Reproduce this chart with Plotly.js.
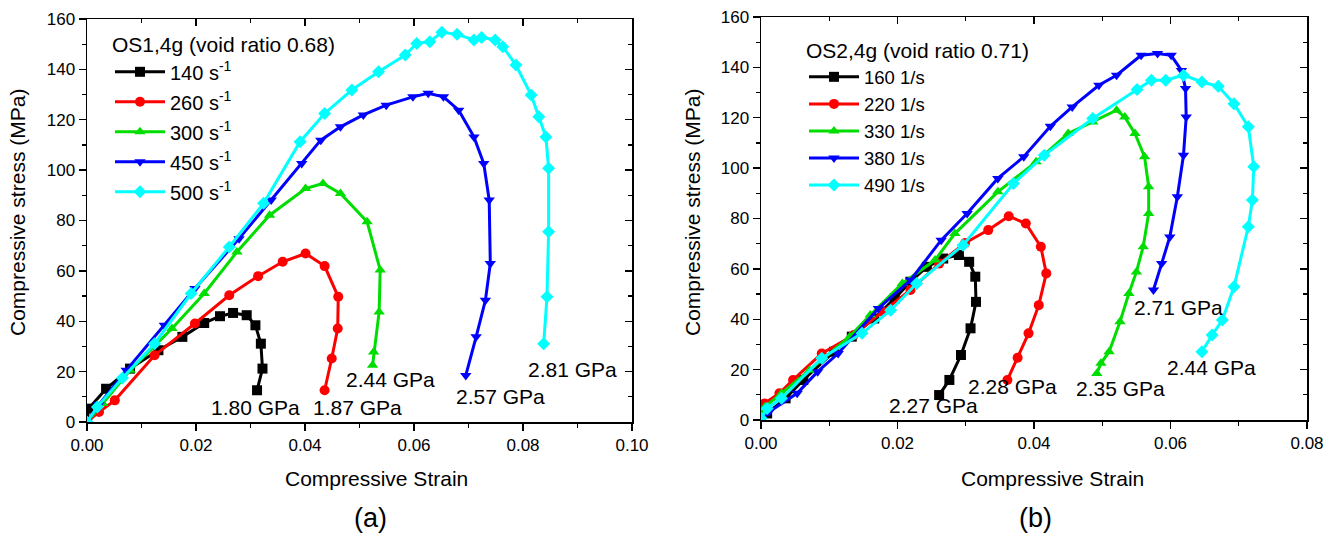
<!DOCTYPE html>
<html>
<head>
<meta charset="utf-8">
<script src="https://cdn.plot.ly/plotly-3.0.1.min.js"></script>
<style>html,body{margin:0;padding:0;background:#fff;}#chart{width:1334px;height:536px;}</style>
</head>
<body>
<div id="chart"></div>
<script>
// ---------- Panel (a): OS1,4g (void ratio 0.68) ----------
const a_names = ["140 s<sup>-1</sup>", "260 s<sup>-1</sup>", "300 s<sup>-1</sup>", "450 s<sup>-1</sup>", "500 s<sup>-1</sup>"];
const a140_strain = [0, 0.0003, 0.0035, 0.0079, 0.0131, 0.0175, 0.0215, 0.0244, 0.0268, 0.0293, 0.0309, 0.0319, 0.0322, 0.0312];
const a140_stress = [0.4, 5.3, 13.2, 21.2, 28.5, 33.8, 39.3, 42.0, 43.3, 42.4, 38.4, 31.1, 21.2, 12.6];
const a260_strain = [0, 0.0022, 0.0051, 0.0124, 0.0198, 0.0261, 0.0314, 0.0359, 0.0401, 0.0436, 0.0461, 0.0460, 0.0449, 0.0436];
const a260_stress = [0, 4.0, 8.6, 26.5, 39.1, 50.3, 57.9, 63.6, 66.9, 61.9, 49.7, 37.1, 25.2, 12.6];
const a300_strain = [0, 0.0029, 0.0079, 0.0156, 0.0215, 0.0275, 0.0335, 0.0401, 0.0433, 0.0465, 0.0514, 0.0538, 0.0536, 0.0526, 0.0524];
const a300_stress = [0, 7.3, 20.5, 37.1, 51.0, 67.5, 82.1, 92.7, 94.7, 90.7, 79.5, 60.3, 43.7, 27.8, 22.5];
const a450_strain = [0, 0.0022, 0.0072, 0.0142, 0.0198, 0.0279, 0.0338, 0.0394, 0.0429, 0.0465, 0.0507, 0.0549, 0.0598, 0.0626, 0.0654, 0.0682, 0.0710, 0.0728, 0.0738, 0.0740, 0.0731, 0.0714, 0.0695];
const a450_stress = [0, 6.9, 20.5, 38.4, 53.0, 72.8, 88.1, 102.6, 111.9, 117.2, 121.9, 125.8, 129.1, 130.5, 129.1, 123.8, 113.2, 102.6, 88.1, 62.9, 48.3, 33.8, 18.5];
const a500_strain = [0, 0.0019, 0.0065, 0.0124, 0.0191, 0.0261, 0.0324, 0.0391, 0.0436, 0.0486, 0.0535, 0.0584, 0.0605, 0.0629, 0.0651, 0.0679, 0.0710, 0.0724, 0.0749, 0.0763, 0.0787, 0.0815, 0.0829, 0.0842, 0.0847, 0.0847, 0.0844, 0.0838];
const a500_stress = [0, 6.0, 17.5, 31.1, 51.0, 69.5, 86.8, 111.3, 122.5, 131.8, 139.1, 145.7, 150.3, 151.0, 154.7, 153.9, 151.7, 152.7, 151.7, 149.0, 141.7, 129.8, 121.2, 113.2, 100.7, 75.5, 49.7, 31.1];
const a_labels = ["1.80 GPa", "1.87 GPa", "2.44 GPa", "2.57 GPa", "2.81 GPa"];
const a_label_x = [0.0310, 0.0497, 0.0556, 0.0758, 0.0890];
const a_label_y = [5.8, 5.8, 16.7, 10.3, 21.0];

// ---------- Panel (b): OS2,4g (void ratio 0.71) ----------
const b_names = ["160 1/s", "220 1/s", "330 1/s", "380 1/s", "490 1/s"];
const b160_strain = [0, 0.0009, 0.0036, 0.0062, 0.0107, 0.0133, 0.0166, 0.0196, 0.0219, 0.0243, 0.0267, 0.0290, 0.0305, 0.0314, 0.0315, 0.0307, 0.0293, 0.0276, 0.0261];
const b160_stress = [0, 2.6, 8.6, 15.9, 27.1, 33.1, 40.3, 48.3, 54.9, 60.8, 64.1, 65.5, 62.8, 56.9, 46.9, 36.4, 25.8, 15.9, 9.9];
const b220_strain = [0, 0.0005, 0.0027, 0.0047, 0.0089, 0.0136, 0.0178, 0.0219, 0.0261, 0.0299, 0.0333, 0.0363, 0.0388, 0.0410, 0.0418, 0.0407, 0.0392, 0.0376, 0.0361];
const b220_stress = [0.7, 6.6, 10.6, 15.9, 26.4, 33.7, 43.0, 51.6, 62.1, 70.3, 75.4, 80.9, 78.0, 68.8, 58.2, 45.6, 34.4, 24.7, 15.9];
const b330_strain = [0, 0.0006, 0.0030, 0.0071, 0.0130, 0.0160, 0.0207, 0.0255, 0.0284, 0.0347, 0.0403, 0.0450, 0.0486, 0.0521, 0.0533, 0.0548, 0.0562, 0.0568, 0.0568, 0.0560, 0.0550, 0.0539, 0.0526, 0.0510, 0.0498, 0.0492];
const b330_stress = [1.3, 5.3, 10.6, 19.8, 33.1, 41.7, 54.2, 63.5, 74.0, 90.6, 102.5, 113.7, 118.3, 123.0, 120.3, 113.7, 104.5, 92.6, 82.0, 68.8, 58.8, 50.2, 39.0, 27.1, 22.5, 18.5];
const b380_strain = [0, 0.0012, 0.0053, 0.0083, 0.0113, 0.0172, 0.0219, 0.0264, 0.0302, 0.0347, 0.0385, 0.0424, 0.0456, 0.0495, 0.0521, 0.0557, 0.0581, 0.0601, 0.0616, 0.0622, 0.0623, 0.0619, 0.0610, 0.0599, 0.0587, 0.0575];
const b380_stress = [0, 3.3, 10.6, 19.2, 26.4, 44.3, 55.5, 71.4, 82.0, 95.9, 104.5, 116.6, 124.3, 132.9, 136.9, 144.8, 145.5, 144.8, 138.8, 131.6, 120.3, 105.1, 88.6, 72.7, 62.1, 51.6];
const b490_strain = [0, 0.0009, 0.0030, 0.0089, 0.0148, 0.0190, 0.0228, 0.0296, 0.0370, 0.0415, 0.0486, 0.0551, 0.0572, 0.0593, 0.0619, 0.0646, 0.0670, 0.0693, 0.0714, 0.0722, 0.0720, 0.0714, 0.0693, 0.0676, 0.0661, 0.0646];
const b490_stress = [0.7, 4.6, 8.6, 24.5, 34.4, 43.6, 54.2, 69.4, 93.9, 105.1, 119.7, 131.2, 134.9, 134.9, 136.9, 134.2, 132.5, 125.6, 116.4, 100.5, 87.3, 76.7, 52.9, 39.7, 33.7, 27.1];
const b_labels = ["2.27 GPa", "2.28 GPa", "2.35 GPa", "2.71 GPa", "2.44 GPa"];
const b_label_x = [0.0253, 0.0369, 0.0526, 0.0611, 0.0660];
const b_label_y = [5.6, 13.5, 12.7, 44.5, 21.0];

const x_title = "Compressive Strain";
const y_title = "Compressive stress (MPa)";
const panel_tags = ["(a)", "(b)"];

const colors = ["#000000", "#ff0000", "#00dd00", "#0000ff", "#00ffff"];
const symbols = ["square", "circle", "triangle-up", "triangle-down", "diamond"];
const FONT = "Arial, 'Liberation Sans', sans-serif";

const aX = [a140_strain, a260_strain, a300_strain, a450_strain, a500_strain];
const aY = [a140_stress, a260_stress, a300_stress, a450_stress, a500_stress];
const bX = [b160_strain, b220_strain, b330_strain, b380_strain, b490_strain];
const bY = [b160_stress, b220_stress, b330_stress, b380_stress, b490_stress];

const traces = [];
aX.forEach((xs, i) => traces.push({
  x: xs, y: aY[i], name: a_names[i], type: "scatter", mode: "lines+markers",
  xaxis: "x", yaxis: "y", legend: "legend", legendgroup: "a" + i,
  line: {color: colors[i], width: 3}, marker: {color: colors[i], symbol: symbols[i], size: 10}
}));
bX.forEach((xs, i) => traces.push({
  x: xs, y: bY[i], name: b_names[i], type: "scatter", mode: "lines+markers",
  xaxis: "x2", yaxis: "y2", legend: "legend2", legendgroup: "b" + i,
  line: {color: colors[i], width: 3}, marker: {color: colors[i], symbol: symbols[i], size: 10}
}));

const annotations = [];
a_labels.forEach((t, i) => annotations.push({x: a_label_x[i], y: a_label_y[i], xref: "x", yref: "y", text: t, showarrow: false, font: {family: FONT, size: 21, color: "#000"}}));
b_labels.forEach((t, i) => annotations.push({x: b_label_x[i], y: b_label_y[i], xref: "x2", yref: "y2", text: t, showarrow: false, font: {family: FONT, size: 21, color: "#000"}}));
const paperText = (t, px, py, size, angle) => ({x: px / 1334, y: 1 - py / 536, xref: "paper", yref: "paper",
  xanchor: "center", yanchor: "middle", text: t, showarrow: false, textangle: angle || 0,
  font: {family: FONT, size: size, color: "#000"}});
annotations.push(paperText(panel_tags[0], 370, 518, 27));
annotations.push(paperText(panel_tags[1], 1035, 518, 27));
annotations.push(paperText(x_title, 377, 478, 21));
annotations.push(paperText(x_title, 1052, 478, 21));
annotations.push(paperText(y_title, 18, 213, 21, -90));
annotations.push(paperText(y_title, 693, 213, 21, -90));

const tickFont = {family: FONT, size: 17, color: "#000"};

function xAxis(range, dom, anchor) {
  return {
    domain: dom, anchor: anchor, range: range, dtick: 0.02, tickformat: ".2f",
    ticks: "outside", ticklen: 7, tickwidth: 1.3, tickcolor: "#000",
    minor: {dtick: 0.01, ticks: "outside", ticklen: 4, tickwidth: 1.3, tickcolor: "#000"},
    showline: true, linecolor: "#000", linewidth: 1.5, mirror: true,
    showgrid: false, zeroline: false, tickfont: tickFont
  };
}
function yAxis(dom, anchor) {
  return {
    domain: dom, anchor: anchor, range: [0, 160], dtick: 20,
    ticks: "outside", ticklen: 7, tickwidth: 1.3, tickcolor: "#000",
    minor: {dtick: 10, ticks: "outside", ticklen: 4, tickwidth: 1.3, tickcolor: "#000"},
    showline: true, linecolor: "#000", linewidth: 1.5, mirror: true,
    showgrid: false, zeroline: false, tickfont: tickFont
  };
}
function topAxis(range, over, anchor) {
  return {overlaying: over, anchor: anchor, side: "top", range: range, dtick: 0.02,
    ticks: "inside", ticklen: 7, tickwidth: 1.3, tickcolor: "#000",
    minor: {dtick: 0.01, ticks: "inside", ticklen: 4, tickwidth: 1.3, tickcolor: "#000"},
    showticklabels: false, showline: false, showgrid: false, zeroline: false};
}
function rightAxis(over, anchor) {
  return {overlaying: over, anchor: anchor, side: "right", range: [0, 160], dtick: 20,
    ticks: "inside", ticklen: 7, tickwidth: 1.3, tickcolor: "#000",
    minor: {dtick: 10, ticks: "inside", ticklen: 4, tickwidth: 1.3, tickcolor: "#000"},
    showticklabels: false, showline: false, showgrid: false, zeroline: false};
}

const domA = [87 / 1334, 632 / 1334];
const domB = [761 / 1334, 1307 / 1334];
const domYA = [1 - 422 / 536, 1 - 19 / 536];
const domYB = [1 - 420 / 536, 1 - 17 / 536];

// dummy traces to activate overlay axes
traces.push({x: [0], y: [0], xaxis: "x3", yaxis: "y", mode: "none", showlegend: false, hoverinfo: "skip"});
traces.push({x: [0], y: [0], xaxis: "x", yaxis: "y3", mode: "none", showlegend: false, hoverinfo: "skip"});
traces.push({x: [0], y: [0], xaxis: "x4", yaxis: "y2", mode: "none", showlegend: false, hoverinfo: "skip"});
traces.push({x: [0], y: [0], xaxis: "x2", yaxis: "y4", mode: "none", showlegend: false, hoverinfo: "skip"});

const legendBase = {
  bgcolor: "rgba(0,0,0,0)", borderwidth: 0, xanchor: "left", yanchor: "top",
  font: {family: FONT, size: 20, color: "#000"}, itemwidth: 50,
  title: {font: {family: FONT, size: 21, color: "#000"}}
};

const layout = {
  width: 1334, height: 536, margin: {l: 0, r: 0, t: 0, b: 0},
  paper_bgcolor: "#fff", plot_bgcolor: "#fff", font: {family: FONT, color: "#000"},
  xaxis: xAxis([0, 0.10], domA, "y"),
  yaxis: yAxis(domYA, "x"),
  xaxis2: xAxis([0, 0.08], domB, "y2"),
  yaxis2: yAxis(domYB, "x2"),
  xaxis3: topAxis([0, 0.10], "x", "y"),
  yaxis3: rightAxis("y", "x"),
  xaxis4: topAxis([0, 0.08], "x2", "y2"),
  yaxis4: rightAxis("y2", "x2"),
  legend: Object.assign({}, legendBase, {x: 110 / 1334, y: 1 - 25 / 536, tracegroupgap: 1,
    title: {text: "OS1,4g (void ratio 0.68)", font: legendBase.title.font}}),
  legend2: Object.assign({}, legendBase, {x: 804 / 1334, y: 1 - 31 / 536, tracegroupgap: 0,
    font: {family: FONT, size: 18.5, color: "#000"},
    title: {text: "OS2,4g (void ratio 0.71)", font: legendBase.title.font}}),
  annotations: annotations,
  showlegend: true
};

Plotly.newPlot("chart", traces, layout, {displayModeBar: false, staticPlot: true});
</script>
</body>
</html>
